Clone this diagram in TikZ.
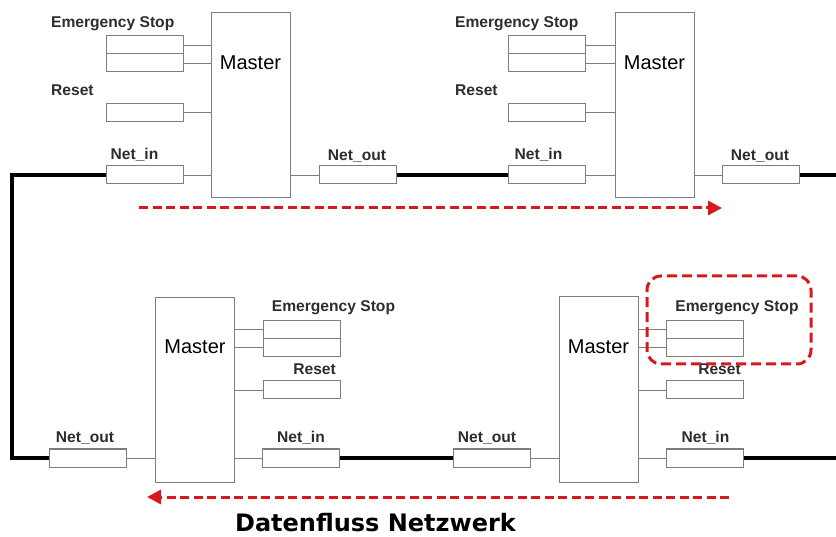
\documentclass[tikz,border=0pt]{standalone}
\usepackage[dvipsnames,svgnames]{xcolor}
\usepackage{fontspec}
\setmainfont{Liberation Sans}
\newfontfamily\titlefont{DejaVu Sans}
\usepackage{tikz}
\usetikzlibrary{positioning, arrows.meta, calc}

\definecolor{boxgray}{RGB}{125,125,125}
\definecolor{flowred}{RGB}{215,25,30}
\definecolor{txtgray}{RGB}{45,45,45}

\begin{document}
\begin{tikzpicture}[x=1pt, y=-1pt, node distance=18pt, on grid,
    box/.style={draw=boxgray, line width=1pt, minimum width=77pt, minimum height=18pt, inner sep=0pt},
    master/.style={draw=boxgray, line width=1pt, minimum width=79pt, minimum height=185pt, inner sep=0pt,
      label={[anchor=center, yshift=-50pt, inner sep=0pt, font=\fontsize{20}{24}\selectfont]north:Master}},
    lbl/.style={font=\fontsize{15.6}{18}\selectfont\bfseries, text=txtgray, inner sep=0pt},
    wire/.style={draw=boxgray, line width=0.9pt},
    bus/.style={line width=4pt},
    flow/.style={draw=flowred, line width=3pt, dash pattern=on 9pt off 4.5pt,
      -{Triangle[length=14pt, width=14pt]}},
    hilite/.style={draw=flowred, line width=3pt, dash pattern=on 10pt off 5pt, rounded corners=14pt,
      minimum width=164pt, minimum height=88pt}]
  \useasboundingbox (0,0) rectangle (836,537);

  % top left
  \node[master] (m1) at (250.5,105.5) {};
  \node[box] (esa1) at (144.5,45) {};
  \node[box] (esb1) [below=of esa1] {};
  \node[box] (rst1) at (144.5,112.5) {};
  \node[box] (nin1) at (144.5,175) {};
  \node[box] (nout1) at (357.5,175) {};
  \node[lbl, anchor=west] (esl1) at (51,24) {Emergency Stop};
  \node[lbl, anchor=west] (rstl1) at (51,90) {Reset};
  \node[lbl] (ninl1) at (134.5,155) {Net\_in};
  \node[lbl] (noutl1) at (357,156) {Net\_out};

  % top right
  \node[master] (m2) at (654.5,105.5) {};
  \node[box] (esa2) at (547,45) {};
  \node[box] (esb2) [below=of esa2] {};
  \node[box] (rst2) at (547,112.5) {};
  \node[box] (nin2) at (547,175) {};
  \node[box] (nout2) at (761,175) {};
  \node[lbl, anchor=west] (esl2) at (455,24) {Emergency Stop};
  \node[lbl, anchor=west] (rstl2) at (455,90) {Reset};
  \node[lbl] (ninl2) at (538.5,155) {Net\_in};
  \node[lbl] (noutl2) at (760,156) {Net\_out};

  % bottom left
  \node[master] (m3) at (195,390) {};
  \node[box] (esa3) at (301.5,329.5) {};
  \node[box] (esb3) [below=of esa3] {};
  \node[box] (rst3) at (301.5,390) {};
  \node[box] (nout3) at (88,458) {};
  \node[box] (nin3) at (300.5,458) {};
  \node[lbl] (esl3) at (333.5,308) {Emergency Stop};
  \node[lbl, anchor=east] (rstl3) at (336,369) {Reset};
  \node[lbl] (noutl3) at (85,438) {Net\_out};
  \node[lbl] (ninl3) at (301,438) {Net\_in};

  % bottom right
  \node[master] (m4) at (598.5,389.5) {};
  \node[box] (esa4) at (705,329.5) {};
  \node[box] (esb4) [below=of esa4] {};
  \node[box] (rst4) at (705,390) {};
  \node[box] (nout4) at (491.5,458) {};
  \node[box] (nin4) at (705,458) {};
  \node[lbl] (esl4) at (737,308) {Emergency Stop};
  \node[lbl] (rstl4) at (719.5,369) {Reset};
  \node[lbl] (noutl4) at (487,438) {Net\_out};
  \node[lbl] (ninl4) at (705.5,438) {Net\_in};

  % wires to the masters
  \path[wire]
    (esa1) edge (esa1 -| m1.west)
    (esb1) edge (esb1 -| m1.west)
    (rst1) edge (rst1 -| m1.west)
    (nin1) edge (nin1 -| m1.west)
    (m1.east |- nout1) edge (nout1)
    (esa2) edge (esa2 -| m2.west)
    (esb2) edge (esb2 -| m2.west)
    (rst2) edge (rst2 -| m2.west)
    (nin2) edge (nin2 -| m2.west)
    (m2.east |- nout2) edge (nout2)
    (m3.east |- esa3) edge (esa3)
    (m3.east |- esb3) edge (esb3)
    (m3.east |- rst3) edge (rst3)
    (m3.east |- nin3) edge (nin3)
    (nout3) edge (nout3 -| m3.west)
    (m4.east |- esa4) edge (esa4)
    (m4.east |- esb4) edge (esb4)
    (m4.east |- rst4) edge (rst4)
    (m4.east |- nin4) edge (nin4)
    (nout4) edge (nout4 -| m4.west);

  % network ring
  \coordinate (c1) at (12,175);
  \coordinate (c2) at (12,458);
  \coordinate (e1) at (836,175);
  \coordinate (e2) at (836,458);
  \draw[bus] (nin1) -- (c1) -- (c2) -- (nout3);
  \draw[bus] (nout1) -- (nin2);
  \draw[bus] (nout2) -- (e1);
  \draw[bus] (nin3) -- (nout4);
  \draw[bus] (nin4) -- (e2);

  % data flow
  \coordinate (f1s) at (139,208);
  \coordinate (f1e) at (722,208);
  \coordinate (f2s) at (729,497);
  \coordinate (f2e) at (147,497);
  \draw[flow] (f1s) -- (f1e);
  \draw[flow] (f2s) -- (f2e);
  \node[hilite] (esmark) at (729,320) {};

  \node[font=\titlefont\bfseries\fontsize{24}{28}\selectfont] (title) at (375.5,523) {Datenfluss Netzwerk};
\end{tikzpicture}
\end{document}
